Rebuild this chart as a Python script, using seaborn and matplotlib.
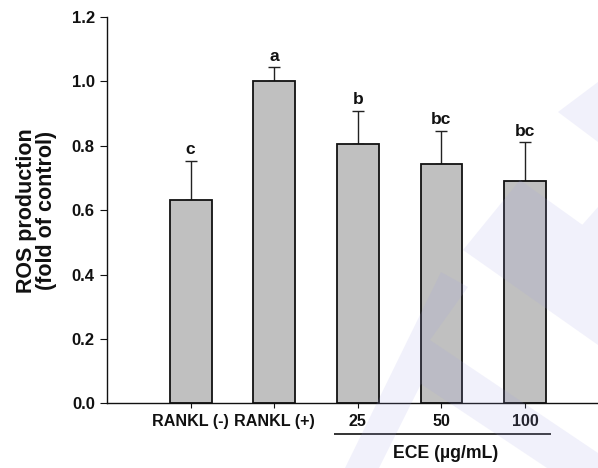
import numpy as np
import pandas as pd
import matplotlib
matplotlib.use("Agg")
import matplotlib.pyplot as plt
import matplotlib.transforms as mtransforms
from matplotlib.path import Path
from matplotlib.patches import PathPatch
import seaborn as sns

# ROS production per treatment group (fold of control), mean and upper error
groups = ["RANKL (-)", "RANKL (+)", "25", "50", "100"]
ros = [0.633, 1.0, 0.806, 0.744, 0.692]
err = [0.121, 0.044, 0.103, 0.102, 0.119]
letters = ["c", "a", "b", "bc", "bc"]
y_ticks = [0.0, 0.2, 0.4, 0.6, 0.8, 1.0, 1.2]
y_title = "ROS production\n(fold of control)"
dose_title = "ECE (\u00b5g/mL)"

sns.set_theme(style="ticks")
plt.rcParams["font.family"] = ["Liberation Sans", "DejaVu Sans"]
plt.rcParams["font.weight"] = "bold"

W, H = 598, 468
fig = plt.figure(figsize=(W / 100, H / 100), dpi=100)
fig.patch.set_facecolor("white")
ax = fig.add_axes([107 / W, (H - 403.3) / H, 490 / W, 386.3 / H])
ax.set_facecolor("white")

df = pd.DataFrame({"group": groups, "ros": ros})
sns.barplot(data=df, x="group", y="ros", order=groups, color="#c0c0c0",
            saturation=1, width=0.5, edgecolor="#111111", linewidth=1.3,
            errorbar=None, ax=ax, zorder=2)

xpos = np.arange(len(groups))
ax.errorbar(xpos, ros, yerr=[np.zeros(len(err)), err], fmt="none",
            ecolor="#222222", elinewidth=1.0, capsize=4, capthick=1.0, zorder=1)

for x, m, e, lab in zip(xpos, ros, err, letters):
    ax.annotate(lab, (x, m + e), xytext=(0, 4.7), textcoords="offset points",
                ha="center", va="baseline", fontsize=12.5, fontweight="bold",
                color="#111111")

ax.set_xlim(-1.0, 4.86)
ax.set_ylim(0, 1.2)
ax.set_yticks(y_ticks)
ax.set_yticklabels([f"{t:.1f}" for t in y_ticks])
ax.set_xlabel("")
ax.set_ylabel(y_title, fontsize=15.5, fontweight="bold", linespacing=0.95,
              color="#111111")
ax.yaxis.set_label_coords(-0.102, 0.5)

sns.despine(ax=ax)
for side in ("left", "bottom"):
    ax.spines[side].set_linewidth(1.0)
    ax.spines[side].set_color("#111111")
ax.tick_params(axis="y", direction="out", length=4.8, width=0.8, pad=4.0,
               labelsize=12.0, colors="#111111")
ax.tick_params(axis="x", direction="out", length=3.6, width=0.8, pad=4.2,
               labelsize=11.6, colors="#111111")
for lbl in ax.get_xticklabels() + ax.get_yticklabels():
    lbl.set_fontweight("bold")

# grouping bar under the ECE doses
trans = mtransforms.blended_transform_factory(ax.transData, fig.transFigure)
ax.plot([2 - 0.28, 4 + 0.31], [(H - 434) / H] * 2, transform=trans,
        color="#333333", lw=1.4, clip_on=False, solid_capstyle="butt")
ax.text(3.05, (H - 458) / H, dose_title, transform=trans, ha="center",
        va="baseline", fontsize=12.7, fontweight="bold", color="#111111")

# faint publisher watermark over the lower right, one compound shape
shapes = [
    [(345, 468), (441, 272), (468, 287), (430, 340), (598, 453),
     (598, 468), (547, 468), (421, 384), (379, 468)],
    [(463, 250), (520, 180), (598, 236), (598, 345)],
    [(545, 267), (598, 207), (598, 330)],
    [(558, 112), (598, 82), (598, 142)],
]
verts, codes = [], []
for pts in shapes:
    ring = [(x / W, (H - y) / H) for x, y in pts]
    verts += ring + [ring[0]]
    codes += [Path.MOVETO] + [Path.LINETO] * (len(ring) - 1) + [Path.CLOSEPOLY]
fig.add_artist(PathPatch(Path(verts, codes), transform=fig.transFigure,
                         facecolor=(160 / 255, 160 / 255, 230 / 255),
                         alpha=0.14, edgecolor="none", zorder=5))

fig.savefig("out.png", dpi=100, facecolor="white")
